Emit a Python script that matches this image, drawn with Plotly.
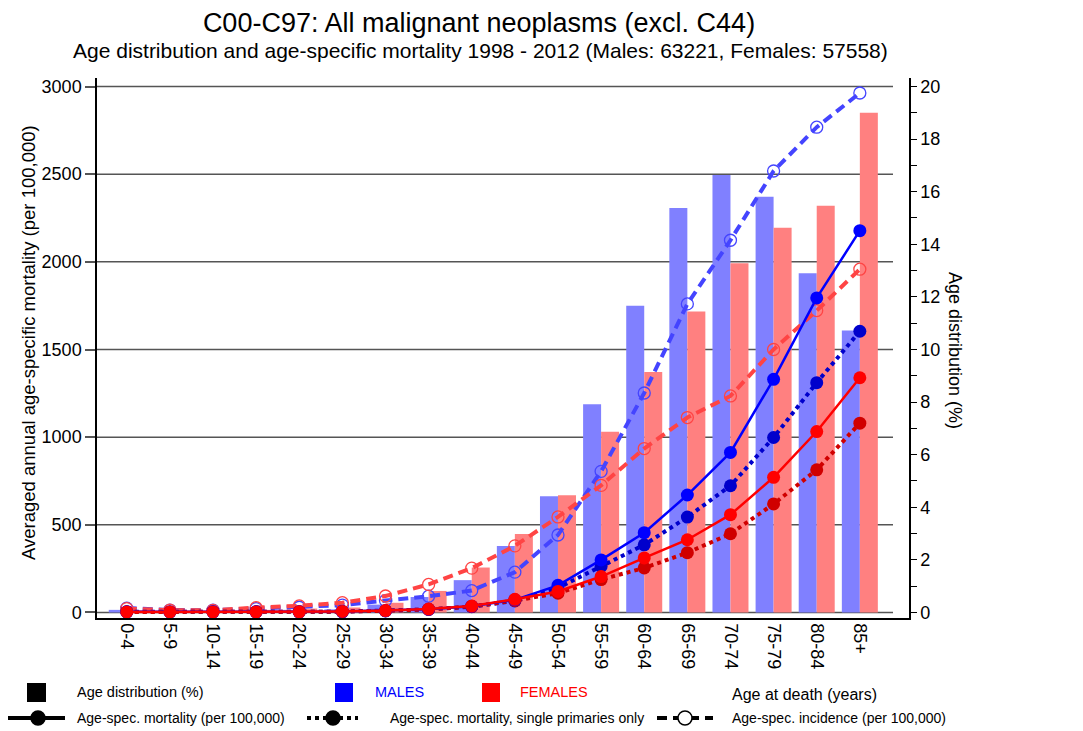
import plotly.graph_objects as go

# ---------------- data ----------------
ages = ["0-4", "5-9", "10-14", "15-19", "20-24", "25-29", "30-34", "35-39", "40-44",
        "45-49", "50-54", "55-59", "60-64", "65-69", "70-74", "75-79", "80-84", "85+"]

# age distribution (%), right axis
male_dist = [0.10, 0.05, 0.06, 0.08, 0.10, 0.12, 0.30, 0.59, 1.23, 2.53, 4.42, 7.92,
             11.66, 15.38, 16.63, 15.81, 12.90, 10.72]
female_dist = [0.08, 0.05, 0.06, 0.10, 0.15, 0.19, 0.37, 0.82, 1.71, 2.98, 4.46, 6.87,
               9.14, 11.44, 13.28, 14.63, 15.46, 19.00]

# age-specific rates per 100,000, left axis
male_mort = [4, 3, 4, 4, 4, 5, 10, 19, 36, 72, 155, 300, 455, 670, 913, 1330, 1794, 2178]
male_mort_sp = [4, 3, 4, 4, 4, 5, 9, 17, 33, 66, 140, 263, 386, 544, 723, 998, 1311, 1604]
female_mort = [3, 3, 3, 3, 4, 6, 11, 20, 37, 75, 120, 205, 311, 415, 558, 771, 1032, 1339]
female_mort_sp = [3, 3, 3, 3, 4, 5, 10, 18, 34, 68, 110, 188, 254, 341, 449, 619, 814, 1080]
male_inc = [25, 14, 13, 22, 30, 42, 68, 93, 125, 230, 442, 805, 1252, 1760, 2123, 2518, 2768, 2963]
female_inc = [22, 13, 12, 28, 38, 56, 94, 160, 253, 380, 545, 725, 935, 1112, 1235, 1500, 1722, 1958]

left_ticks = [0, 500, 1000, 1500, 2000, 2500, 3000]
right_ticks = [0, 2, 4, 6, 8, 10, 12, 14, 16, 18, 20]

title = "C00-C97: All malignant neoplasms (excl. C44)"
subtitle = "Age distribution and age-specific mortality 1998 - 2012 (Males: 63221, Females: 57558)"

# ---------------- styling ----------------
FONT = "Liberation Sans, Arial, sans-serif"
OFF = 8                      # page body margin in the browser
W, H = 1083 - OFF, 731 - OFF
# plot-area edges in screenshot pixels
L, R, T, B = 97, 909, 78, 618


def px(x):
    return (x - L) / (R - L)


def py(y):
    return (B - y) / (B - T)


fig = go.Figure()

# bars (primary y = right axis)
fig.add_trace(go.Bar(x=ages, y=male_dist, marker=dict(color="#8080FF", line=dict(width=0)),
                     yaxis="y", name="Males"))
fig.add_trace(go.Bar(x=ages, y=female_dist, marker=dict(color="#FF8080", line=dict(width=0)),
                     yaxis="y", name="Females"))

# incidence (dashed, open circles)
fig.add_trace(go.Scatter(x=ages, y=male_inc, yaxis="y2", mode="lines+markers",
                         line=dict(color="#4444FF", width=4, dash="10px,6px"),
                         marker=dict(symbol="circle-open", size=12, color="#4444FF",
                                     line=dict(width=1.3))))
fig.add_trace(go.Scatter(x=ages, y=female_inc, yaxis="y2", mode="lines+markers",
                         line=dict(color="#FF4444", width=4, dash="10px,6px"),
                         marker=dict(symbol="circle-open", size=12, color="#FF4444",
                                     line=dict(width=1.3))))
# single primaries (dotted)
fig.add_trace(go.Scatter(x=ages, y=male_mort_sp, yaxis="y2", mode="lines+markers",
                         line=dict(color="#0000CC", width=4, dash="4px,4px"),
                         marker=dict(size=13, color="#0000CC")))
fig.add_trace(go.Scatter(x=ages, y=female_mort_sp, yaxis="y2", mode="lines+markers",
                         line=dict(color="#D00000", width=4, dash="4px,4px"),
                         marker=dict(size=13, color="#D00000")))
# mortality (solid)
fig.add_trace(go.Scatter(x=ages, y=male_mort, yaxis="y2", mode="lines+markers",
                         line=dict(color="#0000FF", width=2.5),
                         marker=dict(size=13, color="#0000FF")))
fig.add_trace(go.Scatter(x=ages, y=female_mort, yaxis="y2", mode="lines+markers",
                         line=dict(color="#FF0000", width=2.5),
                         marker=dict(size=13, color="#FF0000")))

shapes = []
# horizontal grid lines (left axis values)
for v in left_ticks:
    shapes.append(dict(type="line", xref="paper", yref="y2", x0=0, x1=px(893), y0=v, y1=v,
                       line=dict(color="#555555", width=1.5), layer="below"))

annotations = []


def text(x, y, s, size=14, color="black", xanchor="left", angle=0):
    annotations.append(dict(x=px(x), y=py(y), xref="paper", yref="paper", text=s,
                            showarrow=False, xanchor=xanchor, yanchor="middle",
                            textangle=angle, font=dict(family=FONT, size=size, color=color)))


# subtitle & axis titles
text(480, 51, subtitle, size=21, xanchor="center")
text(28, 343, "Averaged annual age-specific mortality (per 100,000)", size=18.5,
     xanchor="center", angle=-90)
text(955, 350, "Age distribution (%)", size=18, xanchor="center", angle=90)
text(730, 694, "Age at death (years)", size=16)

# legend row 1
for (x0, x1, col) in [(27, 46, "black"), (335, 353, "#0000FF"), (482, 500, "#FF0000")]:
    shapes.append(dict(type="rect", xref="paper", yref="paper", x0=px(x0), x1=px(x1),
                       y0=py(702), y1=py(683), fillcolor=col, line=dict(width=0)))
text(75, 692, "Age distribution (%)", size=14.5)
text(373, 692, "MALES", size=14.5, color="#0000FF")
text(518, 692, "FEMALES", size=14.5, color="#FF0000")

# legend row 2
ly = 718
for (x0, x1, cx, dash, filled, tx, label) in [
        (8, 65, 38, "solid", True, 75, "Age-spec. mortality (per 100,000)"),
        (307, 358, 333, "4px,4px", True, 388, "Age-spec. mortality, single primaries only"),
        (657, 713, 685, "10px,6px", False, 730, "Age-spec. incidence (per 100,000)")]:
    shapes.append(dict(type="line", xref="paper", yref="paper", x0=px(x0), x1=px(x1),
                       y0=py(ly), y1=py(ly), line=dict(color="black", width=4, dash=dash)))
    r = 7
    shapes.append(dict(type="circle", xref="paper", yref="paper", x0=px(cx - r), x1=px(cx + r),
                       y0=py(ly + r), y1=py(ly - r),
                       fillcolor="black" if filled else "white",
                       line=dict(color="black", width=1.5)))
    text(tx, ly, label, size=14)

fig.update_layout(
    width=W, height=H,
    margin=dict(l=L - OFF, r=W - (R - OFF), t=T - OFF, b=H - (B - OFF), pad=0),
    paper_bgcolor="white", plot_bgcolor="white",
    font=dict(family=FONT, size=18, color="black"),
    title=dict(text=title, x=(479 - OFF) / W, xanchor="center", y=1 - (23 - OFF) / H,
               yanchor="middle", font=dict(family=FONT, size=27, color="black")),
    showlegend=False,
    barmode="group", bargap=0.165, bargroupgap=0,
    xaxis=dict(type="category", range=[-0.69, 18.14], showline=True, linecolor="black",
               linewidth=1.5, ticks="", tickangle=90, showgrid=False, zeroline=False,
               tickfont=dict(size=18)),
    yaxis=dict(side="right", range=[-0.209, 20.32], tickvals=right_ticks, ticks="outside",
               ticklen=6, tickcolor="black", tickwidth=1, showline=True, linecolor="black",
               linewidth=1.5, showgrid=False, zeroline=False, tickfont=dict(size=18),
               minor=dict(dtick=1, tick0=0, ticks="outside", ticklen=6, tickcolor="black",
                          showgrid=False)),
    yaxis2=dict(overlaying="y", side="left", range=[-31.4, 3048.5], tickvals=left_ticks,
                ticks="outside", ticklen=10, tickcolor="#555555", tickwidth=1.5,
                showline=True, linecolor="black", linewidth=1.5, showgrid=False,
                zeroline=False, tickfont=dict(size=18)),
    shapes=shapes, annotations=annotations,
)

fig.write_html("out.html")
